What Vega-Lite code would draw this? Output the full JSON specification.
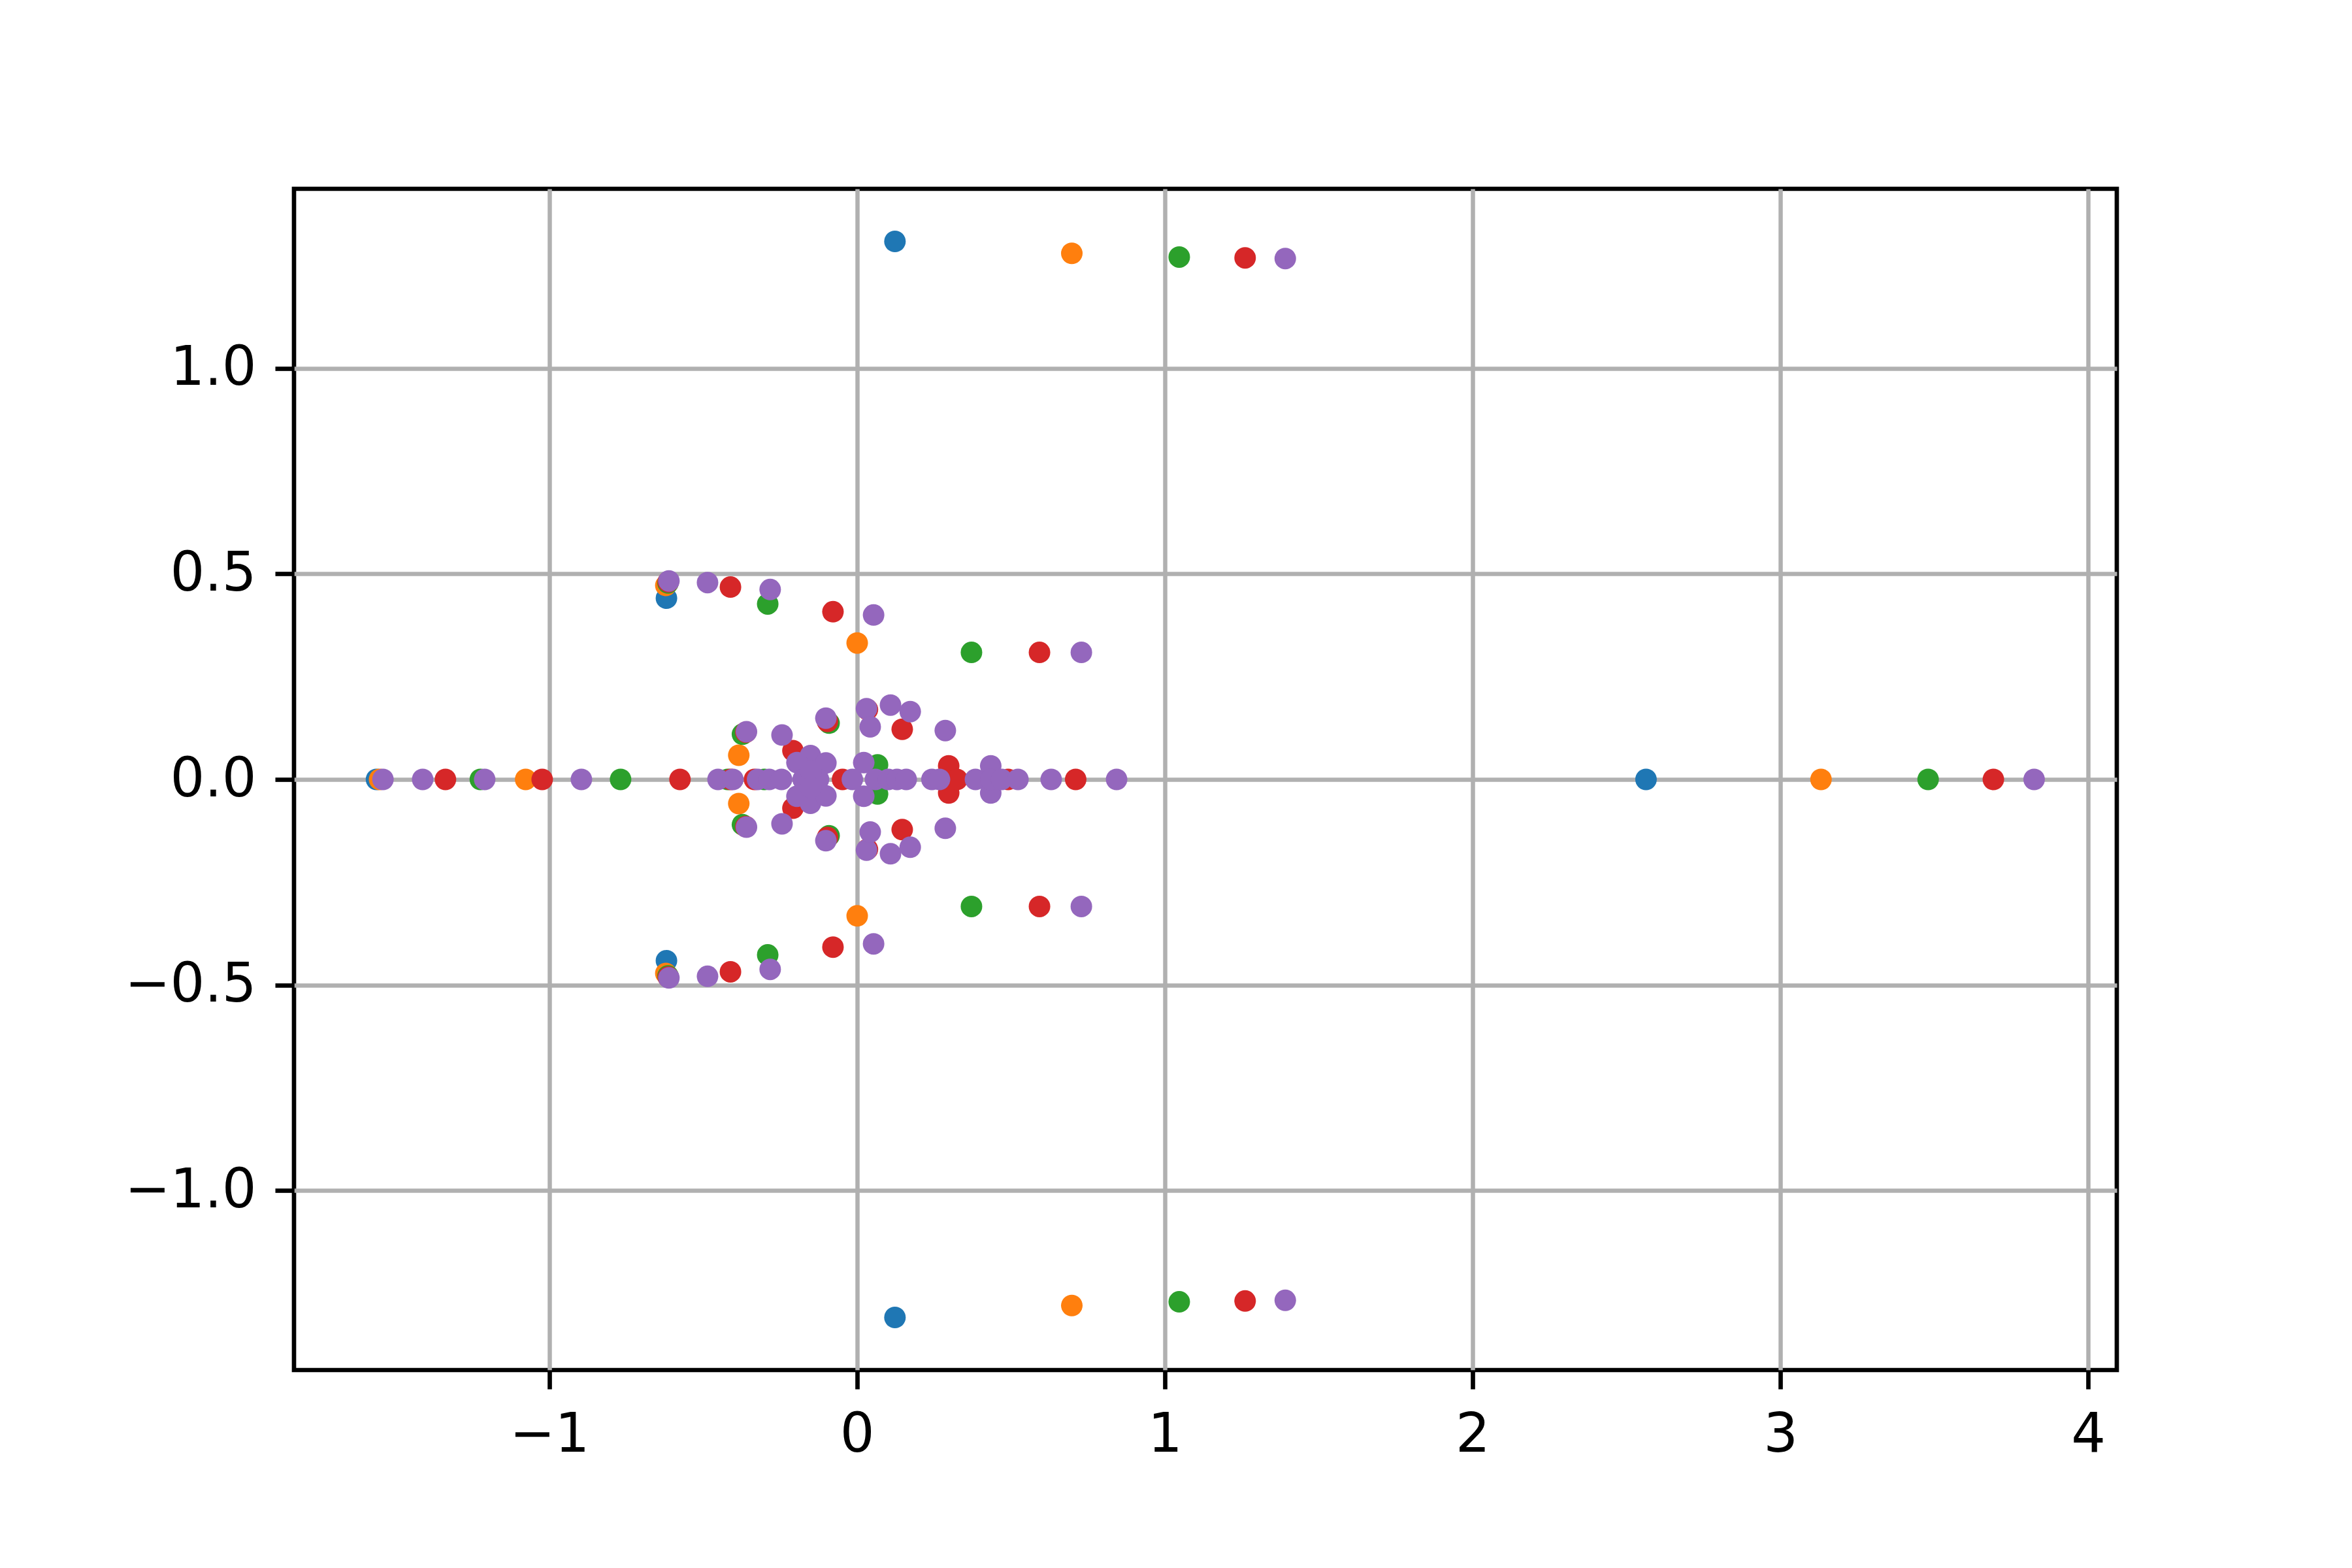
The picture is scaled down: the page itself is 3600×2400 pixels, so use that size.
{
  "$schema": "https://vega.github.io/schema/vega-lite/v6.json",
  "width": 2790,
  "height": 1808,
  "autosize": {"type": "none"},
  "padding": {"left": 450, "top": 289, "right": 360, "bottom": 303},
  "background": "white",
  "config": {"view": {"stroke": "black", "strokeWidth": 6.67}, "font": "DejaVu Sans"},
  "data": {"values": [
    {"s": "0", "re": 0.1234, "im": 1.309}, {"s": "0", "re": 0.1234, "im": -1.309},
    {"s": "0", "re": 2.5635, "im": 0}, {"s": "0", "re": -1.561, "im": 0},
    {"s": "0", "re": -0.619, "im": 0.441}, {"s": "0", "re": -0.619, "im": -0.441},

    {"s": "1", "re": 0.698, "im": 1.28}, {"s": "1", "re": 0.698, "im": -1.28},
    {"s": "1", "re": 3.132, "im": 0}, {"s": "1", "re": -1.551, "im": 0},
    {"s": "1", "re": -1.0764, "im": 0},
    {"s": "1", "re": -0.621, "im": 0.472}, {"s": "1", "re": -0.621, "im": -0.472},
    {"s": "1", "re": 0.0007, "im": 0.332}, {"s": "1", "re": 0.0007, "im": -0.332},
    {"s": "1", "re": -0.384, "im": 0.0588}, {"s": "1", "re": -0.384, "im": -0.0588},

    {"s": "2", "re": 1.047, "im": 1.271}, {"s": "2", "re": 1.047, "im": -1.271},
    {"s": "2", "re": 3.48, "im": 0}, {"s": "2", "re": -1.2236, "im": 0},
    {"s": "2", "re": -0.768, "im": 0},
    {"s": "2", "re": -0.614, "im": 0.478}, {"s": "2", "re": -0.614, "im": -0.478},
    {"s": "2", "re": -0.29, "im": 0.427}, {"s": "2", "re": -0.29, "im": -0.427},
    {"s": "2", "re": 0.372, "im": 0.309}, {"s": "2", "re": 0.372, "im": -0.309},
    {"s": "2", "re": -0.372, "im": 0.11}, {"s": "2", "re": -0.372, "im": -0.11},
    {"s": "2", "re": -0.0906, "im": 0.137}, {"s": "2", "re": -0.0906, "im": -0.137},
    {"s": "2", "re": 0.0668, "im": 0.0355}, {"s": "2", "re": 0.0668, "im": -0.0355},
    {"s": "2", "re": -0.42, "im": 0}, {"s": "2", "re": -0.301, "im": 0},

    {"s": "3", "re": 1.261, "im": 1.269}, {"s": "3", "re": 1.261, "im": -1.269},
    {"s": "3", "re": 3.692, "im": 0}, {"s": "3", "re": -1.337, "im": 0},
    {"s": "3", "re": -1.0227, "im": 0}, {"s": "3", "re": -0.575, "im": 0},
    {"s": "3", "re": -0.613, "im": 0.481}, {"s": "3", "re": -0.613, "im": -0.481},
    {"s": "3", "re": -0.411, "im": 0.468}, {"s": "3", "re": -0.411, "im": -0.468},
    {"s": "3", "re": -0.078, "im": 0.408}, {"s": "3", "re": -0.078, "im": -0.408},
    {"s": "3", "re": 0.593, "im": 0.309}, {"s": "3", "re": 0.593, "im": -0.309},
    {"s": "3", "re": -0.361, "im": 0.115}, {"s": "3", "re": -0.361, "im": -0.115},
    {"s": "3", "re": -0.208, "im": 0.07}, {"s": "3", "re": -0.208, "im": -0.07},
    {"s": "3", "re": -0.096, "im": 0.141}, {"s": "3", "re": -0.096, "im": -0.141},
    {"s": "3", "re": 0.034, "im": 0.17}, {"s": "3", "re": 0.034, "im": -0.17},
    {"s": "3", "re": 0.147, "im": 0.122}, {"s": "3", "re": 0.147, "im": -0.122},
    {"s": "3", "re": 0.298, "im": 0.033}, {"s": "3", "re": 0.298, "im": -0.033},
    {"s": "3", "re": 0.325, "im": 0}, {"s": "3", "re": 0.491, "im": 0},
    {"s": "3", "re": 0.7106, "im": 0}, {"s": "3", "re": -0.047, "im": 0},
    {"s": "3", "re": -0.333, "im": 0}, {"s": "3", "re": -0.41, "im": 0},

    {"s": "4", "re": 1.3915, "im": 1.2674}, {"s": "4", "re": 1.3915, "im": -1.2674},
    {"s": "4", "re": 3.8244, "im": 0}, {"s": "4", "re": -1.54, "im": 0},
    {"s": "4", "re": -1.411, "im": 0}, {"s": "4", "re": -1.2095, "im": 0},
    {"s": "4", "re": -0.8953, "im": 0},
    {"s": "4", "re": -0.611, "im": 0.483}, {"s": "4", "re": -0.611, "im": -0.483},
    {"s": "4", "re": -0.4855, "im": 0.479}, {"s": "4", "re": -0.4855, "im": -0.479},
    {"s": "4", "re": -0.282, "im": 0.462}, {"s": "4", "re": -0.282, "im": -0.462},
    {"s": "4", "re": 0.054, "im": 0.4}, {"s": "4", "re": 0.054, "im": -0.4},
    {"s": "4", "re": 0.729, "im": 0.309}, {"s": "4", "re": 0.729, "im": -0.309},
    {"s": "4", "re": -0.4515, "im": 0}, {"s": "4", "re": -0.403, "im": 0},
    {"s": "4", "re": -0.359, "im": 0.116}, {"s": "4", "re": -0.359, "im": -0.116},
    {"s": "4", "re": -0.2435, "im": 0.108}, {"s": "4", "re": -0.2435, "im": -0.108},
    {"s": "4", "re": -0.101, "im": 0.149}, {"s": "4", "re": -0.101, "im": -0.149},
    {"s": "4", "re": 0.031, "im": 0.172}, {"s": "4", "re": 0.031, "im": -0.172},
    {"s": "4", "re": 0.109, "im": 0.181}, {"s": "4", "re": 0.109, "im": -0.181},
    {"s": "4", "re": 0.173, "im": 0.165}, {"s": "4", "re": 0.173, "im": -0.165},
    {"s": "4", "re": 0.043, "im": 0.128}, {"s": "4", "re": 0.043, "im": -0.128},
    {"s": "4", "re": 0.287, "im": 0.119}, {"s": "4", "re": 0.287, "im": -0.119},
    {"s": "4", "re": -0.323, "im": 0}, {"s": "4", "re": -0.285, "im": 0},
    {"s": "4", "re": -0.245, "im": 0},
    {"s": "4", "re": -0.151, "im": 0.058}, {"s": "4", "re": -0.151, "im": -0.058},
    {"s": "4", "re": -0.101, "im": 0.04}, {"s": "4", "re": -0.101, "im": -0.04},
    {"s": "4", "re": -0.195, "im": 0.041}, {"s": "4", "re": -0.195, "im": -0.041},
    {"s": "4", "re": -0.125, "im": 0}, {"s": "4", "re": -0.175, "im": 0},
    {"s": "4", "re": -0.15, "im": 0.02}, {"s": "4", "re": -0.15, "im": -0.02},
    {"s": "4", "re": -0.015, "im": 0},
    {"s": "4", "re": 0.022, "im": 0.041}, {"s": "4", "re": 0.022, "im": -0.041},
    {"s": "4", "re": 0.06, "im": 0},
    {"s": "4", "re": 0.102, "im": 0}, {"s": "4", "re": 0.13, "im": 0},
    {"s": "4", "re": 0.16, "im": 0}, {"s": "4", "re": 0.2435, "im": 0},
    {"s": "4", "re": 0.268, "im": 0}, {"s": "4", "re": 0.385, "im": 0},
    {"s": "4", "re": 0.4346, "im": 0.033}, {"s": "4", "re": 0.4346, "im": -0.033},
    {"s": "4", "re": 0.4346, "im": 0}, {"s": "4", "re": 0.47, "im": 0},
    {"s": "4", "re": 0.523, "im": 0}, {"s": "4", "re": 0.631, "im": 0},
    {"s": "4", "re": 0.8435, "im": 0}
  ]},
  "mark": {"type": "point", "filled": true, "size": 1090, "opacity": 1, "strokeWidth": 0},
  "encoding": {
    "x": {
      "field": "re", "type": "quantitative",
      "scale": {"domain": [-1.829, 4.093], "nice": false, "zero": false},
      "axis": {
        "values": [-1, 0, 1, 2, 3, 4], "format": "d",
        "labelExpr": "replace(datum.label, '-', '\u2212')",
        "title": null, "grid": true, "gridColor": "#b0b0b0", "gridWidth": 6.5,
        "tickSize": 29, "tickWidth": 6.67, "tickColor": "black", "domain": false,
        "labelFontSize": 83, "labelPadding": 29, "labelColor": "black", "labelLimit": 600,
        "labelFont": "DejaVu Sans", "labelFlush": false, "labelOverlap": false
      }
    },
    "y": {
      "field": "im", "type": "quantitative",
      "scale": {"domain": [-1.437, 1.437], "nice": false, "zero": false},
      "axis": {
        "values": [-1, -0.5, 0, 0.5, 1], "format": ".1f",
        "labelExpr": "replace(datum.label, '-', '\u2212')",
        "title": null, "grid": true, "gridColor": "#b0b0b0", "gridWidth": 6.5,
        "tickSize": 29, "tickWidth": 6.67, "tickColor": "black", "domain": false,
        "labelFontSize": 83, "labelPadding": 29, "labelColor": "black", "labelLimit": 600,
        "labelFont": "DejaVu Sans", "labelFlush": false, "labelOverlap": false
      }
    },
    "color": {
      "field": "s", "type": "nominal", "legend": null,
      "scale": {"domain": ["0", "1", "2", "3", "4"], "range": ["#1f77b4", "#ff7f0e", "#2ca02c", "#d62728", "#9467bd"]}
    }
  }
}
